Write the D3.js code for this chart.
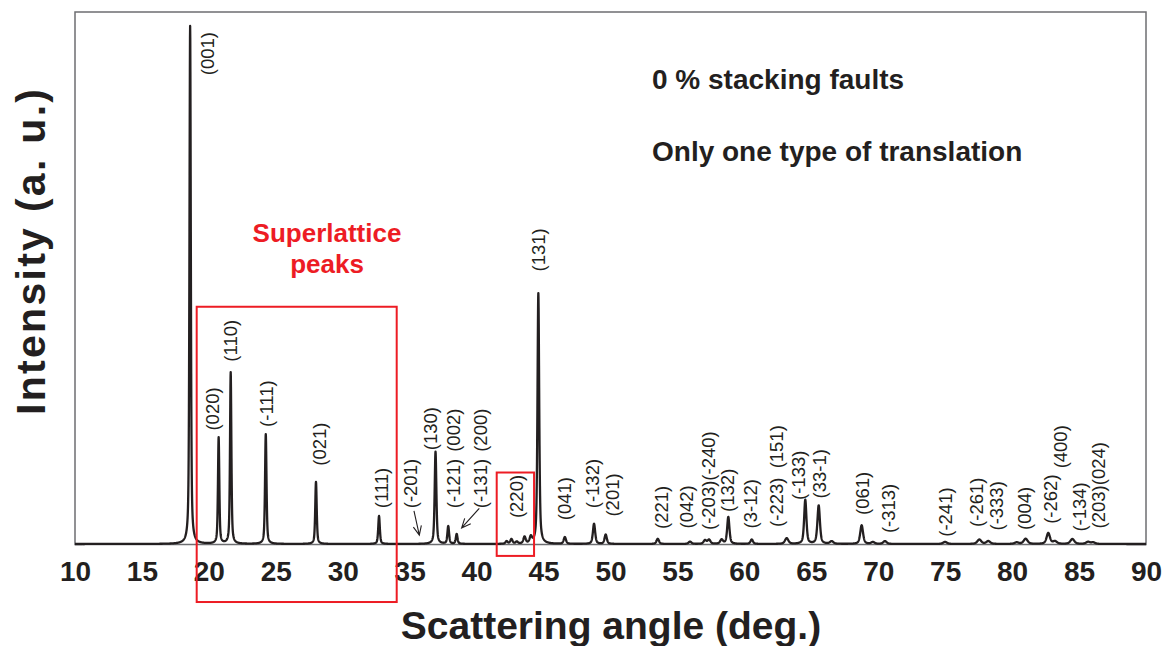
<!DOCTYPE html>
<html>
<head>
<meta charset="utf-8">
<script src="https://cdn.jsdelivr.net/npm/d3@7/dist/d3.min.js"></script>
<style>
  html, body { margin: 0; padding: 0; background: #fff; }
  svg { display: block; font-family: "Liberation Sans", Arial, sans-serif; }
</style>
</head>
<body>
<svg id="chart" width="1163" height="646"></svg>
<script>
// Diffraction peaks: position (2θ, deg), intensity (a. u., strongest = 100), FWHM (deg)
const peakPos = [18.6, 20.73, 21.63, 24.25, 28.0, 32.71, 36.93, 37.88, 38.51,
  42.24, 42.6, 43.0, 43.58, 44.05, 44.61, 46.59, 48.77, 49.64, 53.53, 55.94,
  57.06, 57.36, 58.3, 58.8, 60.55, 63.16, 64.55, 65.55, 66.52, 68.76, 69.6,
  70.5, 74.99, 77.55, 78.22, 80.34, 81.01, 82.7, 83.2, 84.5, 85.67, 86.05];
const peakHeight = [100, 20.5, 33.1, 21.2, 12.0, 5.4, 17.8, 3.4, 1.9,
  0.5, 0.9, 0.4, 1.3, 1.2, 48.4, 1.3, 3.9, 1.8, 1.0, 0.45,
  0.7, 0.8, 0.8, 5.2, 0.85, 1.1, 8.5, 7.4, 0.5, 3.6, 0.35,
  0.55, 0.4, 0.85, 0.55, 0.3, 1.0, 2.1, 0.5, 0.95, 0.4, 0.3];
const peakFwhm = [0.12, 0.12, 0.12, 0.13, 0.13, 0.14, 0.15, 0.15, 0.15,
  0.2, 0.2, 0.2, 0.2, 0.2, 0.15, 0.2, 0.2, 0.2, 0.22, 0.25,
  0.25, 0.25, 0.25, 0.2, 0.22, 0.3, 0.2, 0.22, 0.3, 0.25, 0.3,
  0.3, 0.35, 0.35, 0.35, 0.35, 0.35, 0.3, 0.35, 0.35, 0.35, 0.35];

// Axis ticks
const xTicks = [10, 15, 20, 25, 30, 35, 40, 45, 50, 55, 60, 65, 70, 75, 80, 85, 90];

// Miller-index labels: text, 2θ of the label column, intensity level where the text starts
const hklText = ["(001)", "(020)", "(110)", "(-111)", "(021)", "(111)", "(-201)", "(130)",
  "(-121)", "(002)", "(-131)", "(200)", "(220)", "(131)", "(041)", "(-132)", "(201)",
  "(221)", "(042)", "(-203)(-240)", "(132)", "(3-12)", "(-223)", "(151)", "(-133)",
  "(33-1)", "(061)", "(-313)", "(-241)", "(-261)", "(-333)", "(004)", "(-262)",
  "(400)", "(-134)", "(203)(024)"];
const hklAngle = [19.93, 20.29, 21.65, 24.27, 28.25, 32.86, 35.08, 36.52,
  38.26, 38.26, 40.3, 40.3, 42.99, 44.61, 46.6, 48.67, 50.13,
  53.82, 55.69, 57.31, 58.72, 60.47, 62.41, 62.41, 64.03,
  65.65, 68.84, 70.75, 74.99, 77.35, 78.8, 80.96, 82.88,
  83.58, 85.02, 86.44];
const hklLevel = [90.5, 21.9, 35.2, 22.6, 15.1, 6.9, 6.9, 18.1,
  6.9, 17.8, 6.9, 17.8, 5.0, 52.6, 4.6, 6.9, 5.3,
  2.9, 3.0, 2.7, 6.2, 3.0, 3.3, 14.6, 8.5,
  8.8, 5.6, 2.1, 1.4, 3.3, 2.6, 2.7, 3.9,
  14.6, 2.4, 3.0];

// Pointer arrows (from label to weak peak): [2θ, I] at start and end
const arrowFrom = [[35.32, 6.4], [40.2, 6.9]];
const arrowTo = [[35.72, 1.7], [38.88, 3.1]];

// Highlight boxes around superlattice reflections
const boxLeft = [19.09, 41.5];
const boxRight = [34.03, 44.29];
const boxTop = [45.8, 13.8];
const boxBottom = [-11.2, -2.3];

const svg = d3.select("#chart");
const margin = { left: 75, right: 17, top: 12, bottom: 102 };
const W = 1163, H = 646;
const x = d3.scaleLinear().domain([10, 90]).range([margin.left, W - margin.right]);
const y = d3.scaleLinear().domain([0, 100]).range([544, 26]);
const ink = "#231f20";
const red = "#ed1c24";

// Plot frame
svg.append("rect")
  .attr("x", x(10)).attr("y", margin.top)
  .attr("width", x(90) - x(10)).attr("height", 544.5 - margin.top)
  .attr("fill", "none").attr("stroke", "#6d6e71").attr("stroke-width", 1.5);

// Pattern: sum of pseudo-Voigt profiles
function profile(t) {
  let s = 0;
  for (let i = 0; i < peakPos.length; i++) {
    const u = (t - peakPos[i]) / (peakFwhm[i] / 2);
    const L = 1 / (1 + u * u);
    const G = Math.exp(-Math.LN2 * u * u);
    s += peakHeight[i] * (0.55 * L + 0.45 * G);
  }
  return s;
}
const grid = d3.range(10, 90.0001, 0.01);
const line = d3.line().x(d => x(d)).y(d => y(profile(d)));
svg.append("path")
  .datum(grid)
  .attr("d", line)
  .attr("fill", "none")
  .attr("stroke", ink)
  .attr("stroke-width", 2.3)
  .attr("stroke-linejoin", "round");

// X axis (labels only, no tick marks)
const xAxis = d3.axisBottom(x).tickValues(xTicks).tickSize(0).tickPadding(0).tickFormat(d3.format("d"));
const gx = svg.append("g").attr("transform", "translate(0,544.5)").call(xAxis);
gx.select(".domain").remove();
gx.selectAll("text")
  .attr("y", 0).attr("dy", 0)
  .attr("transform", "translate(0,36)")
  .attr("fill", ink)
  .style("font-family", "'Liberation Sans', Arial, sans-serif")
  .style("font-size", "28px")
  .style("font-weight", "bold");

// Axis titles
svg.append("text")
  .attr("x", 611).attr("y", 639)
  .attr("text-anchor", "middle")
  .attr("fill", ink)
  .style("font-size", "39px").style("font-weight", "bold")
  .text("Scattering angle (deg.)");
svg.append("text")
  .attr("transform", "translate(45,252) rotate(-90)")
  .attr("text-anchor", "middle")
  .attr("textLength", 326)
  .attr("lengthAdjust", "spacing")
  .attr("fill", ink)
  .style("font-size", "41px").style("font-weight", "bold")
  .text("Intensity (a. u.)");

// Peak labels, rotated
svg.append("g").selectAll("text")
  .data(hklText)
  .join("text")
  .attr("transform", (d, i) => `translate(${x(hklAngle[i])},${y(hklLevel[i])}) rotate(-90)`)
  .attr("dy", "0.35em")
  .attr("fill", ink)
  .style("font-size", "18.5px")
  .text(d => d);

// Arrows with open heads
const ag = svg.append("g").attr("stroke", ink).attr("stroke-width", 1.1).attr("fill", "none");
arrowFrom.forEach((f, i) => {
  const x1 = x(f[0]), y1 = y(f[1]), x2 = x(arrowTo[i][0]), y2 = y(arrowTo[i][1]);
  const a = Math.atan2(y2 - y1, x2 - x1);
  const len = 10, spread = 0.42;
  ag.append("path").attr("d",
    `M${x1},${y1}L${x2},${y2}` +
    `M${x2 - len * Math.cos(a - spread)},${y2 - len * Math.sin(a - spread)}L${x2},${y2}` +
    `L${x2 - len * Math.cos(a + spread)},${y2 - len * Math.sin(a + spread)}`);
});

// Red highlight boxes
svg.append("g").selectAll("rect")
  .data(boxLeft)
  .join("rect")
  .attr("x", (d, i) => x(d))
  .attr("y", (d, i) => y(boxTop[i]))
  .attr("width", (d, i) => x(boxRight[i]) - x(d))
  .attr("height", (d, i) => y(boxBottom[i]) - y(boxTop[i]))
  .attr("fill", "none").attr("stroke", red).attr("stroke-width", 2);

// Red caption
const cap = svg.append("text")
  .attr("text-anchor", "middle").attr("fill", red)
  .style("font-size", "26px").style("font-weight", "bold");
cap.append("tspan").attr("x", 327).attr("y", 242).text("Superlattice");
cap.append("tspan").attr("x", 327).attr("y", 273).text("peaks");

// Notes
svg.append("text").attr("x", 652).attr("y", 89).attr("fill", ink)
  .style("font-size", "28px").style("font-weight", "bold")
  .text("0 % stacking faults");
svg.append("text").attr("x", 652).attr("y", 161).attr("fill", ink)
  .style("font-size", "28px").style("font-weight", "bold")
  .text("Only one type of translation");
</script>
</body>
</html>
